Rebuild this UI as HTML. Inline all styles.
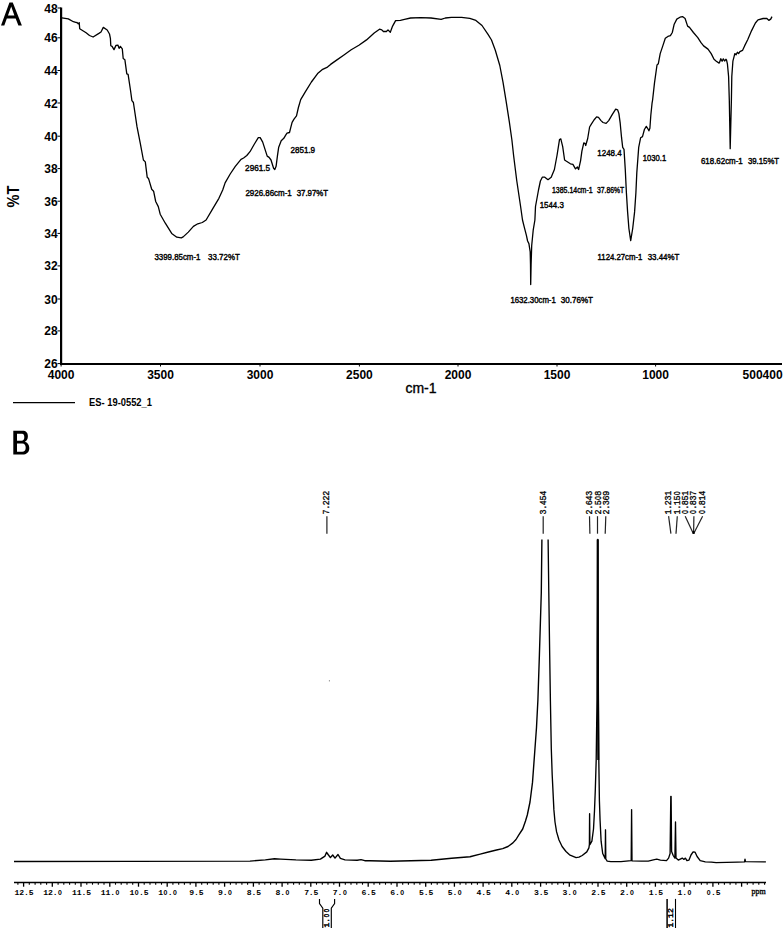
<!DOCTYPE html>
<html><head><meta charset="utf-8"><title>IR and 1H NMR spectra</title>
<style>
html,body{margin:0;padding:0;background:#fff;}
body{width:784px;height:928px;overflow:hidden;}
svg{display:block;}
.s{font-family:"Liberation Sans",sans-serif;}
.m{font-family:"Liberation Mono",monospace;}
.r{font-family:"Liberation Serif",serif;}
</style></head><body>
<svg width="784" height="928" viewBox="0 0 784 928">
<rect x="0" y="0" width="784" height="928" fill="#fff"/>

<path fill="#000" fill-rule="evenodd" d="M1,25.5 L9.45,2.5 L12.77,2.5 L21.9,25.5 L18.4,25.5 L15.66,18.6 L6.83,18.6 L4.3,25.5 Z M7.95,15.4 L14.39,15.4 L11.2,6.4 Z"/>
<path fill="#000" fill-rule="evenodd" d="M13.3,430.8 H22.5 C26,430.8 27.9,432.8 27.9,436.2 C27.9,439 26.6,440.9 24.8,441.8 C27.5,442.6 29.3,444.7 29.3,447.9 C29.3,452 26.8,454.5 22.3,454.5 H13.3 Z M17,433.8 H22 C23.7,433.8 24.3,435 24.3,437.3 C24.3,439.6 23.4,440.8 21.5,440.8 H17 Z M17,443.6 H22.3 C24.6,443.6 25.7,445.3 25.7,447.7 C25.7,450.4 24.4,451.7 22.2,451.7 H17 Z"/>
<path d="M61.1,7.5 V364 H782" fill="none" stroke="#000" stroke-width="2.2"/>
<line x1="57.5" y1="8.0" x2="61" y2="8.0" stroke="#000" stroke-width="1"/>
<text class="s" x="57.7" y="12.5" font-size="12" font-weight="bold" text-anchor="end" fill="#000">48</text>
<line x1="57.5" y1="37.8" x2="61" y2="37.8" stroke="#000" stroke-width="1"/>
<text class="s" x="57.7" y="42.3" font-size="12" font-weight="bold" text-anchor="end" fill="#000">46</text>
<line x1="57.5" y1="70.5" x2="61" y2="70.5" stroke="#000" stroke-width="1"/>
<text class="s" x="57.7" y="75.0" font-size="12" font-weight="bold" text-anchor="end" fill="#000">44</text>
<line x1="57.5" y1="103.0" x2="61" y2="103.0" stroke="#000" stroke-width="1"/>
<text class="s" x="57.7" y="107.5" font-size="12" font-weight="bold" text-anchor="end" fill="#000">42</text>
<line x1="57.5" y1="136.2" x2="61" y2="136.2" stroke="#000" stroke-width="1"/>
<text class="s" x="57.7" y="140.7" font-size="12" font-weight="bold" text-anchor="end" fill="#000">40</text>
<line x1="57.5" y1="168.6" x2="61" y2="168.6" stroke="#000" stroke-width="1"/>
<text class="s" x="57.7" y="173.1" font-size="12" font-weight="bold" text-anchor="end" fill="#000">38</text>
<line x1="57.5" y1="201.2" x2="61" y2="201.2" stroke="#000" stroke-width="1"/>
<text class="s" x="57.7" y="205.7" font-size="12" font-weight="bold" text-anchor="end" fill="#000">36</text>
<line x1="57.5" y1="233.4" x2="61" y2="233.4" stroke="#000" stroke-width="1"/>
<text class="s" x="57.7" y="237.9" font-size="12" font-weight="bold" text-anchor="end" fill="#000">34</text>
<line x1="57.5" y1="265.9" x2="61" y2="265.9" stroke="#000" stroke-width="1"/>
<text class="s" x="57.7" y="270.4" font-size="12" font-weight="bold" text-anchor="end" fill="#000">32</text>
<line x1="57.5" y1="299.0" x2="61" y2="299.0" stroke="#000" stroke-width="1"/>
<text class="s" x="57.7" y="303.5" font-size="12" font-weight="bold" text-anchor="end" fill="#000">30</text>
<line x1="57.5" y1="330.9" x2="61" y2="330.9" stroke="#000" stroke-width="1"/>
<text class="s" x="57.7" y="335.4" font-size="12" font-weight="bold" text-anchor="end" fill="#000">28</text>
<line x1="57.5" y1="363.6" x2="61" y2="363.6" stroke="#000" stroke-width="1"/>
<text class="s" x="57.7" y="368.1" font-size="12" font-weight="bold" text-anchor="end" fill="#000">26</text>
<text class="s" x="61.1" y="378.6" font-size="12" font-weight="bold" text-anchor="middle" fill="#000">4000</text>
<line x1="61.1" y1="364" x2="61.1" y2="366.5" stroke="#000" stroke-width="1"/>
<text class="s" x="160.5" y="378.6" font-size="12" font-weight="bold" text-anchor="middle" fill="#000">3500</text>
<line x1="160.5" y1="364" x2="160.5" y2="366.5" stroke="#000" stroke-width="1"/>
<text class="s" x="260.0" y="378.6" font-size="12" font-weight="bold" text-anchor="middle" fill="#000">3000</text>
<line x1="260.0" y1="364" x2="260.0" y2="366.5" stroke="#000" stroke-width="1"/>
<text class="s" x="359.4" y="378.6" font-size="12" font-weight="bold" text-anchor="middle" fill="#000">2500</text>
<line x1="359.4" y1="364" x2="359.4" y2="366.5" stroke="#000" stroke-width="1"/>
<text class="s" x="458.0" y="378.6" font-size="12" font-weight="bold" text-anchor="middle" fill="#000">2000</text>
<line x1="458.0" y1="364" x2="458.0" y2="366.5" stroke="#000" stroke-width="1"/>
<text class="s" x="557.0" y="378.6" font-size="12" font-weight="bold" text-anchor="middle" fill="#000">1500</text>
<line x1="557.0" y1="364" x2="557.0" y2="366.5" stroke="#000" stroke-width="1"/>
<text class="s" x="655.6" y="378.6" font-size="12" font-weight="bold" text-anchor="middle" fill="#000">1000</text>
<line x1="655.6" y1="364" x2="655.6" y2="366.5" stroke="#000" stroke-width="1"/>
<text class="s" x="782.6" y="378.6" font-size="12" font-weight="bold" text-anchor="end" fill="#000">500400</text>
<text class="s" x="405.4" y="393.2" font-size="14.4" fill="#000" stroke="#000" stroke-width="0.35" textLength="31.2" lengthAdjust="spacingAndGlyphs">cm-1</text>
<text class="s" font-size="16.1" font-weight="bold" fill="#000" textLength="21.8" lengthAdjust="spacingAndGlyphs" transform="translate(19.1,207.4) rotate(-90)">%T</text>
<line x1="13" y1="402.6" x2="75" y2="402.6" stroke="#000" stroke-width="1.3"/>
<text class="s" x="89" y="406.3" font-size="10.5" font-weight="bold" fill="#000" textLength="63" lengthAdjust="spacingAndGlyphs">ES- 19-0552_1</text>
<polyline points="61.9,17.9 68.3,18.9 73.4,21.7 76.5,22.6 77.0,22.4 78.2,23.8 79.2,22.6 79.7,28.7 82.5,30.5 86.1,32.8 89.5,35.5 93.1,37.0 98.9,33.4 101.0,32.0 103.3,27.4 107.2,30.0 109.5,34.0 110.4,38.3 110.8,45.7 112.1,46.4 114.0,49.6 116.0,45.4 117.9,45.1 119.1,48.3 120.4,46.4 122.3,48.9 123.2,58.5 124.9,59.8 126.8,73.8 128.1,74.4 130.6,91.0 131.9,100.6 133.4,102.5 137.0,126.7 140.2,142.8 143.4,160.0 145.3,161.9 147.2,177.2 148.5,178.5 149.1,180.4 151.7,189.3 153.6,191.2 155.7,201.5 158.3,206.6 160.2,214.2 165.3,223.2 171.7,233.4 176.8,237.2 181.3,237.8 183.2,236.9 188.3,232.1 193.4,226.4 197.8,223.8 202.3,222.5 206.1,220.0 212.5,209.1 218.9,198.3 222.7,190.0 225.1,182.9 230.2,174.0 235.3,166.3 241.0,159.3 243.6,158.0 246.8,155.5 250.0,151.7 254.4,144.0 258.3,137.6 260.2,137.6 262.7,142.1 267.2,156.1 269.1,157.4 271.0,160.0 273.6,168.2 274.8,169.5 276.1,166.3 277.4,156.1 278.7,147.2 281.2,140.8 283.8,138.3 285.7,135.1 287.0,133.2 289.5,132.5 290.8,127.4 292.1,122.3 294.0,119.1 296.5,115.9 298.4,107.5 300.7,99.6 305.3,91.9 311.4,82.0 317.6,73.6 322.1,69.7 327.5,67.1 330.6,64.4 335.9,60.6 343.6,55.2 351.2,49.8 358.9,45.3 366.5,39.9 374.2,33.0 379.5,29.2 381.8,29.9 383.4,31.5 386.4,31.5 388.0,29.9 390.3,32.2 392.6,26.1 395.6,20.6 400.4,20.4 404.5,19.4 410.6,18.0 420.8,17.6 431.0,18.0 441.2,19.4 445.3,18.0 451.4,17.3 461.6,17.3 469.8,18.4 475.9,20.4 482.0,25.5 488.2,34.7 491.5,40.0 495.3,50.2 499.8,65.5 503.0,82.1 506.1,101.2 509.3,121.6 511.9,140.0 513.6,155.5 516.8,181.0 520.6,206.5 522.5,220.0 524.4,227.7 526.4,235.3 527.6,241.0 528.9,243.6 530.2,251.9 530.5,264.6 530.7,284.5 531.1,264.6 531.7,245.5 533.2,230.2 534.9,220.0 535.5,206.5 538.5,190.0 540.4,181.0 542.3,177.2 544.8,177.2 548.0,179.7 551.2,177.2 554.4,169.5 557.0,155.5 559.5,139.6 560.8,138.9 562.7,146.6 564.6,160.0 566.5,161.3 570.4,163.8 572.9,164.4 575.5,168.9 577.4,167.0 578.6,169.5 580.6,160.6 581.9,151.2 583.8,142.9 585.1,143.6 585.7,145.5 587.7,138.5 589.6,127.0 591.5,123.8 594.0,120.0 596.6,116.8 598.5,117.4 601.0,120.6 603.0,122.5 606.1,123.4 608.7,120.6 612.5,114.2 615.7,109.1 617.6,109.8 618.9,113.6 620.2,123.2 621.5,137.2 622.7,147.4 624.0,149.3 625.3,170.0 626.4,192.8 627.6,211.9 628.9,228.5 630.7,240.7 632.7,228.5 634.6,211.9 635.9,192.8 636.8,172.9 638.7,147.4 640.6,137.8 642.5,136.6 644.4,129.5 646.3,126.4 647.6,128.3 648.9,130.8 649.9,128.3 650.8,115.5 652.1,102.8 652.6,100.0 654.5,82.9 657.0,65.0 658.3,63.8 660.2,53.6 662.8,45.9 665.3,38.3 667.9,36.4 670.4,35.7 672.3,32.5 674.2,24.2 676.8,19.1 680.0,17.2 682.5,16.6 685.1,18.5 687.6,26.1 689.5,27.4 693.4,32.5 697.8,37.6 701.0,42.7 703.6,45.9 708.0,49.1 711.2,53.6 714.0,59.3 716.3,61.2 719.1,63.1 719.5,62.5 720.8,58.7 722.1,61.2 723.3,58.9 724.6,61.0 725.9,59.3 726.5,59.9 727.4,63.8 728.6,76.5 729.3,100.0 730.2,148.7 731.4,100.0 731.8,76.5 732.9,61.2 734.2,56.1 734.8,53.6 736.1,54.8 737.4,52.3 738.6,53.6 739.9,51.7 742.5,50.4 744.6,45.9 747.8,39.5 751.6,30.6 755.4,23.0 758.0,19.8 763.1,18.5 766.9,18.5 768.8,20.4 770.7,19.1 772.0,16.6" fill="none" stroke="#000" stroke-width="1.3" stroke-linejoin="round"/>
<text class="s" x="154.5" y="260.0" font-size="8.6" fill="#000" textLength="45.9" lengthAdjust="spacingAndGlyphs" stroke="#000" stroke-width="0.4">3399.85cm-1</text>
<text class="s" x="208.1" y="260.0" font-size="8.6" fill="#000" textLength="31.7" lengthAdjust="spacingAndGlyphs" stroke="#000" stroke-width="0.4">33.72%T</text>
<text class="s" x="245.1" y="170.5" font-size="8.6" fill="#000" textLength="25.0" lengthAdjust="spacingAndGlyphs" stroke="#000" stroke-width="0.4">2961.5</text>
<text class="s" x="290.5" y="152.6" font-size="8.6" fill="#000" textLength="24.6" lengthAdjust="spacingAndGlyphs" stroke="#000" stroke-width="0.4">2851.9</text>
<text class="s" x="245.4" y="196.4" font-size="8.6" fill="#000" textLength="46.4" lengthAdjust="spacingAndGlyphs" stroke="#000" stroke-width="0.4">2926.86cm-1</text>
<text class="s" x="296.7" y="196.4" font-size="8.6" fill="#000" textLength="31.4" lengthAdjust="spacingAndGlyphs" stroke="#000" stroke-width="0.4">37.97%T</text>
<text class="s" x="510.4" y="303.0" font-size="8.6" fill="#000" textLength="45.4" lengthAdjust="spacingAndGlyphs" stroke="#000" stroke-width="0.4">1632.30cm-1</text>
<text class="s" x="560.7" y="303.0" font-size="8.6" fill="#000" textLength="32.3" lengthAdjust="spacingAndGlyphs" stroke="#000" stroke-width="0.4">30.76%T</text>
<text class="s" x="539.7" y="207.7" font-size="8.6" fill="#000" textLength="24.1" lengthAdjust="spacingAndGlyphs" stroke="#000" stroke-width="0.4">1544.3</text>
<text class="s" x="552.0" y="193.4" font-size="8.6" fill="#000" textLength="40.6" lengthAdjust="spacingAndGlyphs" stroke="#000" stroke-width="0.4">1385.14cm-1</text>
<text class="s" x="597.0" y="193.4" font-size="8.6" fill="#000" textLength="27.2" lengthAdjust="spacingAndGlyphs" stroke="#000" stroke-width="0.4">37.86%T</text>
<text class="s" x="597.3" y="155.6" font-size="8.6" fill="#000" textLength="24.3" lengthAdjust="spacingAndGlyphs" stroke="#000" stroke-width="0.4">1248.4</text>
<text class="s" x="642.8" y="161.4" font-size="8.6" fill="#000" textLength="23.4" lengthAdjust="spacingAndGlyphs" stroke="#000" stroke-width="0.4">1030.1</text>
<text class="s" x="597.6" y="260.1" font-size="8.6" fill="#000" textLength="44.8" lengthAdjust="spacingAndGlyphs" stroke="#000" stroke-width="0.4">1124.27cm-1</text>
<text class="s" x="647.7" y="260.1" font-size="8.6" fill="#000" textLength="31.7" lengthAdjust="spacingAndGlyphs" stroke="#000" stroke-width="0.4">33.44%T</text>
<text class="s" x="700.9" y="164.4" font-size="8.6" fill="#000" textLength="41.9" lengthAdjust="spacingAndGlyphs" stroke="#000" stroke-width="0.4">618.62cm-1</text>
<text class="s" x="747.9" y="164.4" font-size="8.6" fill="#000" textLength="31.2" lengthAdjust="spacingAndGlyphs" stroke="#000" stroke-width="0.4">39.15%T</text>
<line x1="14" y1="882.5" x2="766" y2="882.5" stroke="#000" stroke-width="1.4"/>
<line x1="17.9" y1="882.5" x2="17.9" y2="884.7" stroke="#000" stroke-width="1.1"/>
<line x1="23.6" y1="882.5" x2="23.6" y2="886.7" stroke="#000" stroke-width="1.3"/>
<g transform="translate(14.60,895)"><text class="m" x="2.38" y="0" text-anchor="middle" font-size="8.1" font-weight="bold" fill="#000">1</text><text class="m" x="7.12" y="0" text-anchor="middle" font-size="8.1" font-weight="bold" fill="#000">2</text><text class="m" x="11.88" y="0" text-anchor="middle" font-size="8.1" font-weight="bold" fill="#000">.</text><text class="m" x="16.62" y="0" text-anchor="middle" font-size="8.1" font-weight="bold" fill="#000">5</text></g>
<line x1="29.3" y1="882.5" x2="29.3" y2="884.7" stroke="#000" stroke-width="1.1"/>
<line x1="35.1" y1="882.5" x2="35.1" y2="884.7" stroke="#000" stroke-width="1.1"/>
<line x1="40.8" y1="882.5" x2="40.8" y2="884.7" stroke="#000" stroke-width="1.1"/>
<line x1="46.6" y1="882.5" x2="46.6" y2="884.7" stroke="#000" stroke-width="1.1"/>
<line x1="52.3" y1="882.5" x2="52.3" y2="886.7" stroke="#000" stroke-width="1.3"/>
<g transform="translate(43.32,895)"><text class="m" x="2.38" y="0" text-anchor="middle" font-size="8.1" font-weight="bold" fill="#000">1</text><text class="m" x="7.12" y="0" text-anchor="middle" font-size="8.1" font-weight="bold" fill="#000">2</text><text class="m" x="11.88" y="0" text-anchor="middle" font-size="8.1" font-weight="bold" fill="#000">.</text><text class="m" text-anchor="middle" font-size="8.1" font-weight="bold" fill="#000" transform="translate(16.62,0) scale(0.78,1)">O</text></g>
<line x1="58.1" y1="882.5" x2="58.1" y2="884.7" stroke="#000" stroke-width="1.1"/>
<line x1="63.8" y1="882.5" x2="63.8" y2="884.7" stroke="#000" stroke-width="1.1"/>
<line x1="69.6" y1="882.5" x2="69.6" y2="884.7" stroke="#000" stroke-width="1.1"/>
<line x1="75.3" y1="882.5" x2="75.3" y2="884.7" stroke="#000" stroke-width="1.1"/>
<line x1="81.0" y1="882.5" x2="81.0" y2="886.7" stroke="#000" stroke-width="1.3"/>
<g transform="translate(72.04,895)"><text class="m" x="2.38" y="0" text-anchor="middle" font-size="8.1" font-weight="bold" fill="#000">1</text><text class="m" x="7.12" y="0" text-anchor="middle" font-size="8.1" font-weight="bold" fill="#000">1</text><text class="m" x="11.88" y="0" text-anchor="middle" font-size="8.1" font-weight="bold" fill="#000">.</text><text class="m" x="16.62" y="0" text-anchor="middle" font-size="8.1" font-weight="bold" fill="#000">5</text></g>
<line x1="86.8" y1="882.5" x2="86.8" y2="884.7" stroke="#000" stroke-width="1.1"/>
<line x1="92.5" y1="882.5" x2="92.5" y2="884.7" stroke="#000" stroke-width="1.1"/>
<line x1="98.3" y1="882.5" x2="98.3" y2="884.7" stroke="#000" stroke-width="1.1"/>
<line x1="104.0" y1="882.5" x2="104.0" y2="884.7" stroke="#000" stroke-width="1.1"/>
<line x1="109.8" y1="882.5" x2="109.8" y2="886.7" stroke="#000" stroke-width="1.3"/>
<g transform="translate(100.76,895)"><text class="m" x="2.38" y="0" text-anchor="middle" font-size="8.1" font-weight="bold" fill="#000">1</text><text class="m" x="7.12" y="0" text-anchor="middle" font-size="8.1" font-weight="bold" fill="#000">1</text><text class="m" x="11.88" y="0" text-anchor="middle" font-size="8.1" font-weight="bold" fill="#000">.</text><text class="m" text-anchor="middle" font-size="8.1" font-weight="bold" fill="#000" transform="translate(16.62,0) scale(0.78,1)">O</text></g>
<line x1="115.5" y1="882.5" x2="115.5" y2="884.7" stroke="#000" stroke-width="1.1"/>
<line x1="121.2" y1="882.5" x2="121.2" y2="884.7" stroke="#000" stroke-width="1.1"/>
<line x1="127.0" y1="882.5" x2="127.0" y2="884.7" stroke="#000" stroke-width="1.1"/>
<line x1="132.7" y1="882.5" x2="132.7" y2="884.7" stroke="#000" stroke-width="1.1"/>
<line x1="138.5" y1="882.5" x2="138.5" y2="886.7" stroke="#000" stroke-width="1.3"/>
<g transform="translate(129.48,895)"><text class="m" x="2.38" y="0" text-anchor="middle" font-size="8.1" font-weight="bold" fill="#000">1</text><text class="m" text-anchor="middle" font-size="8.1" font-weight="bold" fill="#000" transform="translate(7.12,0) scale(0.78,1)">O</text><text class="m" x="11.88" y="0" text-anchor="middle" font-size="8.1" font-weight="bold" fill="#000">.</text><text class="m" x="16.62" y="0" text-anchor="middle" font-size="8.1" font-weight="bold" fill="#000">5</text></g>
<line x1="144.2" y1="882.5" x2="144.2" y2="884.7" stroke="#000" stroke-width="1.1"/>
<line x1="150.0" y1="882.5" x2="150.0" y2="884.7" stroke="#000" stroke-width="1.1"/>
<line x1="155.7" y1="882.5" x2="155.7" y2="884.7" stroke="#000" stroke-width="1.1"/>
<line x1="161.5" y1="882.5" x2="161.5" y2="884.7" stroke="#000" stroke-width="1.1"/>
<line x1="167.2" y1="882.5" x2="167.2" y2="886.7" stroke="#000" stroke-width="1.3"/>
<g transform="translate(158.20,895)"><text class="m" x="2.38" y="0" text-anchor="middle" font-size="8.1" font-weight="bold" fill="#000">1</text><text class="m" text-anchor="middle" font-size="8.1" font-weight="bold" fill="#000" transform="translate(7.12,0) scale(0.78,1)">O</text><text class="m" x="11.88" y="0" text-anchor="middle" font-size="8.1" font-weight="bold" fill="#000">.</text><text class="m" text-anchor="middle" font-size="8.1" font-weight="bold" fill="#000" transform="translate(16.62,0) scale(0.78,1)">O</text></g>
<line x1="172.9" y1="882.5" x2="172.9" y2="884.7" stroke="#000" stroke-width="1.1"/>
<line x1="178.7" y1="882.5" x2="178.7" y2="884.7" stroke="#000" stroke-width="1.1"/>
<line x1="184.4" y1="882.5" x2="184.4" y2="884.7" stroke="#000" stroke-width="1.1"/>
<line x1="190.2" y1="882.5" x2="190.2" y2="884.7" stroke="#000" stroke-width="1.1"/>
<line x1="195.9" y1="882.5" x2="195.9" y2="886.7" stroke="#000" stroke-width="1.3"/>
<g transform="translate(189.29,895)"><text class="m" x="2.38" y="0" text-anchor="middle" font-size="8.1" font-weight="bold" fill="#000">9</text><text class="m" x="7.12" y="0" text-anchor="middle" font-size="8.1" font-weight="bold" fill="#000">.</text><text class="m" x="11.88" y="0" text-anchor="middle" font-size="8.1" font-weight="bold" fill="#000">5</text></g>
<line x1="201.7" y1="882.5" x2="201.7" y2="884.7" stroke="#000" stroke-width="1.1"/>
<line x1="207.4" y1="882.5" x2="207.4" y2="884.7" stroke="#000" stroke-width="1.1"/>
<line x1="213.2" y1="882.5" x2="213.2" y2="884.7" stroke="#000" stroke-width="1.1"/>
<line x1="218.9" y1="882.5" x2="218.9" y2="884.7" stroke="#000" stroke-width="1.1"/>
<line x1="224.6" y1="882.5" x2="224.6" y2="886.7" stroke="#000" stroke-width="1.3"/>
<g transform="translate(218.01,895)"><text class="m" x="2.38" y="0" text-anchor="middle" font-size="8.1" font-weight="bold" fill="#000">9</text><text class="m" x="7.12" y="0" text-anchor="middle" font-size="8.1" font-weight="bold" fill="#000">.</text><text class="m" text-anchor="middle" font-size="8.1" font-weight="bold" fill="#000" transform="translate(11.88,0) scale(0.78,1)">O</text></g>
<line x1="230.4" y1="882.5" x2="230.4" y2="884.7" stroke="#000" stroke-width="1.1"/>
<line x1="236.1" y1="882.5" x2="236.1" y2="884.7" stroke="#000" stroke-width="1.1"/>
<line x1="241.9" y1="882.5" x2="241.9" y2="884.7" stroke="#000" stroke-width="1.1"/>
<line x1="247.6" y1="882.5" x2="247.6" y2="884.7" stroke="#000" stroke-width="1.1"/>
<line x1="253.4" y1="882.5" x2="253.4" y2="886.7" stroke="#000" stroke-width="1.3"/>
<g transform="translate(246.73,895)"><text class="m" x="2.38" y="0" text-anchor="middle" font-size="8.1" font-weight="bold" fill="#000">8</text><text class="m" x="7.12" y="0" text-anchor="middle" font-size="8.1" font-weight="bold" fill="#000">.</text><text class="m" x="11.88" y="0" text-anchor="middle" font-size="8.1" font-weight="bold" fill="#000">5</text></g>
<line x1="259.1" y1="882.5" x2="259.1" y2="884.7" stroke="#000" stroke-width="1.1"/>
<line x1="264.8" y1="882.5" x2="264.8" y2="884.7" stroke="#000" stroke-width="1.1"/>
<line x1="270.6" y1="882.5" x2="270.6" y2="884.7" stroke="#000" stroke-width="1.1"/>
<line x1="276.3" y1="882.5" x2="276.3" y2="884.7" stroke="#000" stroke-width="1.1"/>
<line x1="282.1" y1="882.5" x2="282.1" y2="886.7" stroke="#000" stroke-width="1.3"/>
<g transform="translate(275.46,895)"><text class="m" x="2.38" y="0" text-anchor="middle" font-size="8.1" font-weight="bold" fill="#000">8</text><text class="m" x="7.12" y="0" text-anchor="middle" font-size="8.1" font-weight="bold" fill="#000">.</text><text class="m" text-anchor="middle" font-size="8.1" font-weight="bold" fill="#000" transform="translate(11.88,0) scale(0.78,1)">O</text></g>
<line x1="287.8" y1="882.5" x2="287.8" y2="884.7" stroke="#000" stroke-width="1.1"/>
<line x1="293.6" y1="882.5" x2="293.6" y2="884.7" stroke="#000" stroke-width="1.1"/>
<line x1="299.3" y1="882.5" x2="299.3" y2="884.7" stroke="#000" stroke-width="1.1"/>
<line x1="305.1" y1="882.5" x2="305.1" y2="884.7" stroke="#000" stroke-width="1.1"/>
<line x1="310.8" y1="882.5" x2="310.8" y2="886.7" stroke="#000" stroke-width="1.3"/>
<g transform="translate(304.18,895)"><text class="m" x="2.38" y="0" text-anchor="middle" font-size="8.1" font-weight="bold" fill="#000">7</text><text class="m" x="7.12" y="0" text-anchor="middle" font-size="8.1" font-weight="bold" fill="#000">.</text><text class="m" x="11.88" y="0" text-anchor="middle" font-size="8.1" font-weight="bold" fill="#000">5</text></g>
<line x1="316.5" y1="882.5" x2="316.5" y2="884.7" stroke="#000" stroke-width="1.1"/>
<line x1="322.3" y1="882.5" x2="322.3" y2="884.7" stroke="#000" stroke-width="1.1"/>
<line x1="328.0" y1="882.5" x2="328.0" y2="884.7" stroke="#000" stroke-width="1.1"/>
<line x1="333.8" y1="882.5" x2="333.8" y2="884.7" stroke="#000" stroke-width="1.1"/>
<line x1="339.5" y1="882.5" x2="339.5" y2="886.7" stroke="#000" stroke-width="1.3"/>
<g transform="translate(332.89,895)"><text class="m" x="2.38" y="0" text-anchor="middle" font-size="8.1" font-weight="bold" fill="#000">7</text><text class="m" x="7.12" y="0" text-anchor="middle" font-size="8.1" font-weight="bold" fill="#000">.</text><text class="m" text-anchor="middle" font-size="8.1" font-weight="bold" fill="#000" transform="translate(11.88,0) scale(0.78,1)">O</text></g>
<line x1="345.3" y1="882.5" x2="345.3" y2="884.7" stroke="#000" stroke-width="1.1"/>
<line x1="351.0" y1="882.5" x2="351.0" y2="884.7" stroke="#000" stroke-width="1.1"/>
<line x1="356.8" y1="882.5" x2="356.8" y2="884.7" stroke="#000" stroke-width="1.1"/>
<line x1="362.5" y1="882.5" x2="362.5" y2="884.7" stroke="#000" stroke-width="1.1"/>
<line x1="368.2" y1="882.5" x2="368.2" y2="886.7" stroke="#000" stroke-width="1.3"/>
<g transform="translate(361.62,895)"><text class="m" x="2.38" y="0" text-anchor="middle" font-size="8.1" font-weight="bold" fill="#000">6</text><text class="m" x="7.12" y="0" text-anchor="middle" font-size="8.1" font-weight="bold" fill="#000">.</text><text class="m" x="11.88" y="0" text-anchor="middle" font-size="8.1" font-weight="bold" fill="#000">5</text></g>
<line x1="374.0" y1="882.5" x2="374.0" y2="884.7" stroke="#000" stroke-width="1.1"/>
<line x1="379.7" y1="882.5" x2="379.7" y2="884.7" stroke="#000" stroke-width="1.1"/>
<line x1="385.5" y1="882.5" x2="385.5" y2="884.7" stroke="#000" stroke-width="1.1"/>
<line x1="391.2" y1="882.5" x2="391.2" y2="884.7" stroke="#000" stroke-width="1.1"/>
<line x1="397.0" y1="882.5" x2="397.0" y2="886.7" stroke="#000" stroke-width="1.3"/>
<g transform="translate(390.34,895)"><text class="m" x="2.38" y="0" text-anchor="middle" font-size="8.1" font-weight="bold" fill="#000">6</text><text class="m" x="7.12" y="0" text-anchor="middle" font-size="8.1" font-weight="bold" fill="#000">.</text><text class="m" text-anchor="middle" font-size="8.1" font-weight="bold" fill="#000" transform="translate(11.88,0) scale(0.78,1)">O</text></g>
<line x1="402.7" y1="882.5" x2="402.7" y2="884.7" stroke="#000" stroke-width="1.1"/>
<line x1="408.4" y1="882.5" x2="408.4" y2="884.7" stroke="#000" stroke-width="1.1"/>
<line x1="414.2" y1="882.5" x2="414.2" y2="884.7" stroke="#000" stroke-width="1.1"/>
<line x1="419.9" y1="882.5" x2="419.9" y2="884.7" stroke="#000" stroke-width="1.1"/>
<line x1="425.7" y1="882.5" x2="425.7" y2="886.7" stroke="#000" stroke-width="1.3"/>
<g transform="translate(419.06,895)"><text class="m" x="2.38" y="0" text-anchor="middle" font-size="8.1" font-weight="bold" fill="#000">5</text><text class="m" x="7.12" y="0" text-anchor="middle" font-size="8.1" font-weight="bold" fill="#000">.</text><text class="m" x="11.88" y="0" text-anchor="middle" font-size="8.1" font-weight="bold" fill="#000">5</text></g>
<line x1="431.4" y1="882.5" x2="431.4" y2="884.7" stroke="#000" stroke-width="1.1"/>
<line x1="437.2" y1="882.5" x2="437.2" y2="884.7" stroke="#000" stroke-width="1.1"/>
<line x1="442.9" y1="882.5" x2="442.9" y2="884.7" stroke="#000" stroke-width="1.1"/>
<line x1="448.7" y1="882.5" x2="448.7" y2="884.7" stroke="#000" stroke-width="1.1"/>
<line x1="454.4" y1="882.5" x2="454.4" y2="886.7" stroke="#000" stroke-width="1.3"/>
<g transform="translate(447.77,895)"><text class="m" x="2.38" y="0" text-anchor="middle" font-size="8.1" font-weight="bold" fill="#000">5</text><text class="m" x="7.12" y="0" text-anchor="middle" font-size="8.1" font-weight="bold" fill="#000">.</text><text class="m" text-anchor="middle" font-size="8.1" font-weight="bold" fill="#000" transform="translate(11.88,0) scale(0.78,1)">O</text></g>
<line x1="460.1" y1="882.5" x2="460.1" y2="884.7" stroke="#000" stroke-width="1.1"/>
<line x1="465.9" y1="882.5" x2="465.9" y2="884.7" stroke="#000" stroke-width="1.1"/>
<line x1="471.6" y1="882.5" x2="471.6" y2="884.7" stroke="#000" stroke-width="1.1"/>
<line x1="477.4" y1="882.5" x2="477.4" y2="884.7" stroke="#000" stroke-width="1.1"/>
<line x1="483.1" y1="882.5" x2="483.1" y2="886.7" stroke="#000" stroke-width="1.3"/>
<g transform="translate(476.50,895)"><text class="m" x="2.38" y="0" text-anchor="middle" font-size="8.1" font-weight="bold" fill="#000">4</text><text class="m" x="7.12" y="0" text-anchor="middle" font-size="8.1" font-weight="bold" fill="#000">.</text><text class="m" x="11.88" y="0" text-anchor="middle" font-size="8.1" font-weight="bold" fill="#000">5</text></g>
<line x1="488.9" y1="882.5" x2="488.9" y2="884.7" stroke="#000" stroke-width="1.1"/>
<line x1="494.6" y1="882.5" x2="494.6" y2="884.7" stroke="#000" stroke-width="1.1"/>
<line x1="500.4" y1="882.5" x2="500.4" y2="884.7" stroke="#000" stroke-width="1.1"/>
<line x1="506.1" y1="882.5" x2="506.1" y2="884.7" stroke="#000" stroke-width="1.1"/>
<line x1="511.8" y1="882.5" x2="511.8" y2="886.7" stroke="#000" stroke-width="1.3"/>
<g transform="translate(505.22,895)"><text class="m" x="2.38" y="0" text-anchor="middle" font-size="8.1" font-weight="bold" fill="#000">4</text><text class="m" x="7.12" y="0" text-anchor="middle" font-size="8.1" font-weight="bold" fill="#000">.</text><text class="m" text-anchor="middle" font-size="8.1" font-weight="bold" fill="#000" transform="translate(11.88,0) scale(0.78,1)">O</text></g>
<line x1="517.6" y1="882.5" x2="517.6" y2="884.7" stroke="#000" stroke-width="1.1"/>
<line x1="523.3" y1="882.5" x2="523.3" y2="884.7" stroke="#000" stroke-width="1.1"/>
<line x1="529.1" y1="882.5" x2="529.1" y2="884.7" stroke="#000" stroke-width="1.1"/>
<line x1="534.8" y1="882.5" x2="534.8" y2="884.7" stroke="#000" stroke-width="1.1"/>
<line x1="540.6" y1="882.5" x2="540.6" y2="886.7" stroke="#000" stroke-width="1.3"/>
<g transform="translate(533.94,895)"><text class="m" x="2.38" y="0" text-anchor="middle" font-size="8.1" font-weight="bold" fill="#000">3</text><text class="m" x="7.12" y="0" text-anchor="middle" font-size="8.1" font-weight="bold" fill="#000">.</text><text class="m" x="11.88" y="0" text-anchor="middle" font-size="8.1" font-weight="bold" fill="#000">5</text></g>
<line x1="546.3" y1="882.5" x2="546.3" y2="884.7" stroke="#000" stroke-width="1.1"/>
<line x1="552.0" y1="882.5" x2="552.0" y2="884.7" stroke="#000" stroke-width="1.1"/>
<line x1="557.8" y1="882.5" x2="557.8" y2="884.7" stroke="#000" stroke-width="1.1"/>
<line x1="563.5" y1="882.5" x2="563.5" y2="884.7" stroke="#000" stroke-width="1.1"/>
<line x1="569.3" y1="882.5" x2="569.3" y2="886.7" stroke="#000" stroke-width="1.3"/>
<g transform="translate(562.65,895)"><text class="m" x="2.38" y="0" text-anchor="middle" font-size="8.1" font-weight="bold" fill="#000">3</text><text class="m" x="7.12" y="0" text-anchor="middle" font-size="8.1" font-weight="bold" fill="#000">.</text><text class="m" text-anchor="middle" font-size="8.1" font-weight="bold" fill="#000" transform="translate(11.88,0) scale(0.78,1)">O</text></g>
<line x1="575.0" y1="882.5" x2="575.0" y2="884.7" stroke="#000" stroke-width="1.1"/>
<line x1="580.8" y1="882.5" x2="580.8" y2="884.7" stroke="#000" stroke-width="1.1"/>
<line x1="586.5" y1="882.5" x2="586.5" y2="884.7" stroke="#000" stroke-width="1.1"/>
<line x1="592.3" y1="882.5" x2="592.3" y2="884.7" stroke="#000" stroke-width="1.1"/>
<line x1="598.0" y1="882.5" x2="598.0" y2="886.7" stroke="#000" stroke-width="1.3"/>
<g transform="translate(591.38,895)"><text class="m" x="2.38" y="0" text-anchor="middle" font-size="8.1" font-weight="bold" fill="#000">2</text><text class="m" x="7.12" y="0" text-anchor="middle" font-size="8.1" font-weight="bold" fill="#000">.</text><text class="m" x="11.88" y="0" text-anchor="middle" font-size="8.1" font-weight="bold" fill="#000">5</text></g>
<line x1="603.7" y1="882.5" x2="603.7" y2="884.7" stroke="#000" stroke-width="1.1"/>
<line x1="609.5" y1="882.5" x2="609.5" y2="884.7" stroke="#000" stroke-width="1.1"/>
<line x1="615.2" y1="882.5" x2="615.2" y2="884.7" stroke="#000" stroke-width="1.1"/>
<line x1="621.0" y1="882.5" x2="621.0" y2="884.7" stroke="#000" stroke-width="1.1"/>
<line x1="626.7" y1="882.5" x2="626.7" y2="886.7" stroke="#000" stroke-width="1.3"/>
<g transform="translate(620.10,895)"><text class="m" x="2.38" y="0" text-anchor="middle" font-size="8.1" font-weight="bold" fill="#000">2</text><text class="m" x="7.12" y="0" text-anchor="middle" font-size="8.1" font-weight="bold" fill="#000">.</text><text class="m" text-anchor="middle" font-size="8.1" font-weight="bold" fill="#000" transform="translate(11.88,0) scale(0.78,1)">O</text></g>
<line x1="632.5" y1="882.5" x2="632.5" y2="884.7" stroke="#000" stroke-width="1.1"/>
<line x1="638.2" y1="882.5" x2="638.2" y2="884.7" stroke="#000" stroke-width="1.1"/>
<line x1="644.0" y1="882.5" x2="644.0" y2="884.7" stroke="#000" stroke-width="1.1"/>
<line x1="649.7" y1="882.5" x2="649.7" y2="884.7" stroke="#000" stroke-width="1.1"/>
<line x1="655.4" y1="882.5" x2="655.4" y2="886.7" stroke="#000" stroke-width="1.3"/>
<g transform="translate(648.81,895)"><text class="m" x="2.38" y="0" text-anchor="middle" font-size="8.1" font-weight="bold" fill="#000">1</text><text class="m" x="7.12" y="0" text-anchor="middle" font-size="8.1" font-weight="bold" fill="#000">.</text><text class="m" x="11.88" y="0" text-anchor="middle" font-size="8.1" font-weight="bold" fill="#000">5</text></g>
<line x1="661.2" y1="882.5" x2="661.2" y2="884.7" stroke="#000" stroke-width="1.1"/>
<line x1="666.9" y1="882.5" x2="666.9" y2="884.7" stroke="#000" stroke-width="1.1"/>
<line x1="672.7" y1="882.5" x2="672.7" y2="884.7" stroke="#000" stroke-width="1.1"/>
<line x1="678.4" y1="882.5" x2="678.4" y2="884.7" stroke="#000" stroke-width="1.1"/>
<line x1="684.2" y1="882.5" x2="684.2" y2="886.7" stroke="#000" stroke-width="1.3"/>
<g transform="translate(677.53,895)"><text class="m" x="2.38" y="0" text-anchor="middle" font-size="8.1" font-weight="bold" fill="#000">1</text><text class="m" x="7.12" y="0" text-anchor="middle" font-size="8.1" font-weight="bold" fill="#000">.</text><text class="m" text-anchor="middle" font-size="8.1" font-weight="bold" fill="#000" transform="translate(11.88,0) scale(0.78,1)">O</text></g>
<line x1="689.9" y1="882.5" x2="689.9" y2="884.7" stroke="#000" stroke-width="1.1"/>
<line x1="695.6" y1="882.5" x2="695.6" y2="884.7" stroke="#000" stroke-width="1.1"/>
<line x1="701.4" y1="882.5" x2="701.4" y2="884.7" stroke="#000" stroke-width="1.1"/>
<line x1="707.1" y1="882.5" x2="707.1" y2="884.7" stroke="#000" stroke-width="1.1"/>
<line x1="712.9" y1="882.5" x2="712.9" y2="886.7" stroke="#000" stroke-width="1.3"/>
<g transform="translate(706.25,895)"><text class="m" text-anchor="middle" font-size="8.1" font-weight="bold" fill="#000" transform="translate(2.38,0) scale(0.78,1)">O</text><text class="m" x="7.12" y="0" text-anchor="middle" font-size="8.1" font-weight="bold" fill="#000">.</text><text class="m" x="11.88" y="0" text-anchor="middle" font-size="8.1" font-weight="bold" fill="#000">5</text></g>
<line x1="718.6" y1="882.5" x2="718.6" y2="884.7" stroke="#000" stroke-width="1.1"/>
<line x1="724.4" y1="882.5" x2="724.4" y2="884.7" stroke="#000" stroke-width="1.1"/>
<line x1="730.1" y1="882.5" x2="730.1" y2="884.7" stroke="#000" stroke-width="1.1"/>
<line x1="735.9" y1="882.5" x2="735.9" y2="884.7" stroke="#000" stroke-width="1.1"/>
<line x1="741.6" y1="882.5" x2="741.6" y2="886.7" stroke="#000" stroke-width="1.3"/>
<line x1="747.3" y1="882.5" x2="747.3" y2="884.7" stroke="#000" stroke-width="1.1"/>
<line x1="753.1" y1="882.5" x2="753.1" y2="884.7" stroke="#000" stroke-width="1.1"/>
<line x1="758.8" y1="882.5" x2="758.8" y2="884.7" stroke="#000" stroke-width="1.1"/>
<line x1="764.6" y1="882.5" x2="764.6" y2="884.7" stroke="#000" stroke-width="1.1"/>
<text class="r" x="751.6" y="893.9" font-size="8.8" fill="#000" stroke="#000" stroke-width="0.35" textLength="14.2" lengthAdjust="spacingAndGlyphs">ppm</text>
<polyline points="14.0,861.5 250.0,861.1 265.3,859.9 274.5,858.8 280.6,859.1 295.9,859.9 311.3,860.2 320.4,859.1 325.0,856.1 326.6,852.3 328.1,854.5 330.4,857.6 332.7,855.0 335.0,858.1 338.0,854.5 340.4,858.4 345.0,859.9 357.2,860.2 361.0,859.6 364.8,860.7 370.0,860.8 390.4,861.2 410.8,860.8 431.2,860.2 451.6,858.2 470.0,856.7 480.2,854.1 488.4,852.0 496.5,850.0 502.7,848.6 508.0,846.5 512.9,842.9 516.0,839.5 519.0,834.7 522.7,829.0 525.5,821.0 527.3,815.0 530.0,802.0 532.5,782.4 534.5,755.0 536.5,727.5 537.9,700.0 539.4,655.0 541.3,592.5 541.9,539.4" fill="none" stroke="#000" stroke-width="1.4" stroke-linejoin="round"/>
<polyline points="548.1,539.4 548.8,592.5 549.7,655.0 550.4,701.0 551.3,748.8 552.2,775.0 553.9,809.9 555.0,822.0 556.6,831.9 559.0,840.0 562.1,846.5 566.0,851.5 569.5,854.8 574.9,857.1 576.1,857.6 579.0,857.2 582.2,855.5 586.8,851.9 588.9,847.9 589.4,844.3 589.6,813.7 589.9,844.6 591.9,841.2 593.5,829.0 594.5,810.6 595.3,790.0 596.2,760.0 597.0,700.0 597.5,600.0 597.7,539.4 597.9,539.4 598.1,600.0 598.4,700.0 598.8,760.0 599.1,780.0 599.4,800.4 600.1,820.8 601.1,841.2 602.7,853.5 605.2,858.6 605.5,829.8 605.8,859.0 607.2,861.1 610.8,861.6 621.0,861.6 631.2,860.6 631.6,809.6 632.0,860.8 641.4,861.1 648.2,861.1 653.3,859.9 656.8,859.1 660.4,860.1 666.5,860.6 668.6,858.1 670.1,853.5 670.8,796.3 671.1,796.3 671.6,851.4 673.2,855.5 674.9,858.1 675.5,822.0 676.0,858.1 678.3,860.1 680.3,859.1 682.3,858.1 683.9,859.4 685.4,858.1 686.9,860.6 689.0,860.1 691.0,855.0 693.1,851.9 695.1,852.2 697.1,856.5 700.2,860.6 705.3,861.8 711.4,862.1 716.1,862.7 737.5,862.2 744.5,861.9 745.0,859.2 745.5,861.6 765.9,861.9" fill="none" stroke="#000" stroke-width="1.35" stroke-linejoin="round"/>
<path d="M597.7,539.4 L597.75,650 L598.1,720 L598.3,760" fill="none" stroke="#000" stroke-width="2.1"/>
<g transform="translate(329.2,514.3) rotate(-90)"><text class="m" x="2.34" y="0" text-anchor="middle" font-size="8.4" fill="#000" stroke="#000" stroke-width="0.3">7</text><text class="m" x="7.02" y="0" text-anchor="middle" font-size="8.4" fill="#000" stroke="#000" stroke-width="0.3">.</text><text class="m" x="11.70" y="0" text-anchor="middle" font-size="8.4" fill="#000" stroke="#000" stroke-width="0.3">2</text><text class="m" x="16.38" y="0" text-anchor="middle" font-size="8.4" fill="#000" stroke="#000" stroke-width="0.3">2</text><text class="m" x="21.06" y="0" text-anchor="middle" font-size="8.4" fill="#000" stroke="#000" stroke-width="0.3">2</text></g>
<line x1="326.9" y1="516.2" x2="326.9" y2="533.7" stroke="#222" stroke-width="1.2"/>
<g transform="translate(545.8,514.3) rotate(-90)"><text class="m" x="2.34" y="0" text-anchor="middle" font-size="8.4" fill="#000" stroke="#000" stroke-width="0.3">3</text><text class="m" x="7.02" y="0" text-anchor="middle" font-size="8.4" fill="#000" stroke="#000" stroke-width="0.3">.</text><text class="m" x="11.70" y="0" text-anchor="middle" font-size="8.4" fill="#000" stroke="#000" stroke-width="0.3">4</text><text class="m" x="16.38" y="0" text-anchor="middle" font-size="8.4" fill="#000" stroke="#000" stroke-width="0.3">5</text><text class="m" x="21.06" y="0" text-anchor="middle" font-size="8.4" fill="#000" stroke="#000" stroke-width="0.3">4</text></g>
<line x1="543.2" y1="516.2" x2="543.2" y2="533.7" stroke="#222" stroke-width="1.2"/>
<g transform="translate(592.0,514.3) rotate(-90)"><text class="m" x="2.34" y="0" text-anchor="middle" font-size="8.4" fill="#000" stroke="#000" stroke-width="0.3">2</text><text class="m" x="7.02" y="0" text-anchor="middle" font-size="8.4" fill="#000" stroke="#000" stroke-width="0.3">.</text><text class="m" x="11.70" y="0" text-anchor="middle" font-size="8.4" fill="#000" stroke="#000" stroke-width="0.3">6</text><text class="m" x="16.38" y="0" text-anchor="middle" font-size="8.4" fill="#000" stroke="#000" stroke-width="0.3">4</text><text class="m" x="21.06" y="0" text-anchor="middle" font-size="8.4" fill="#000" stroke="#000" stroke-width="0.3">3</text></g>
<line x1="589.5" y1="516.2" x2="589.9" y2="533.7" stroke="#222" stroke-width="1.2"/>
<g transform="translate(600.7,514.3) rotate(-90)"><text class="m" x="2.34" y="0" text-anchor="middle" font-size="8.4" fill="#000" stroke="#000" stroke-width="0.3">2</text><text class="m" x="7.02" y="0" text-anchor="middle" font-size="8.4" fill="#000" stroke="#000" stroke-width="0.3">.</text><text class="m" x="11.70" y="0" text-anchor="middle" font-size="8.4" fill="#000" stroke="#000" stroke-width="0.3">5</text><text class="m" text-anchor="middle" font-size="8.4" fill="#000" stroke="#000" stroke-width="0.3" transform="translate(16.38,0) scale(0.78,1)">O</text><text class="m" x="21.06" y="0" text-anchor="middle" font-size="8.4" fill="#000" stroke="#000" stroke-width="0.3">8</text></g>
<line x1="597.5" y1="516.2" x2="597.5" y2="533.7" stroke="#222" stroke-width="1.2"/>
<g transform="translate(609.2,514.3) rotate(-90)"><text class="m" x="2.34" y="0" text-anchor="middle" font-size="8.4" fill="#000" stroke="#000" stroke-width="0.3">2</text><text class="m" x="7.02" y="0" text-anchor="middle" font-size="8.4" fill="#000" stroke="#000" stroke-width="0.3">.</text><text class="m" x="11.70" y="0" text-anchor="middle" font-size="8.4" fill="#000" stroke="#000" stroke-width="0.3">3</text><text class="m" x="16.38" y="0" text-anchor="middle" font-size="8.4" fill="#000" stroke="#000" stroke-width="0.3">6</text><text class="m" x="21.06" y="0" text-anchor="middle" font-size="8.4" fill="#000" stroke="#000" stroke-width="0.3">9</text></g>
<line x1="605.8" y1="516.2" x2="605.2" y2="533.7" stroke="#222" stroke-width="1.2"/>
<g transform="translate(671.2,514.3) rotate(-90)"><text class="m" x="2.34" y="0" text-anchor="middle" font-size="8.4" fill="#000" stroke="#000" stroke-width="0.3">1</text><text class="m" x="7.02" y="0" text-anchor="middle" font-size="8.4" fill="#000" stroke="#000" stroke-width="0.3">.</text><text class="m" x="11.70" y="0" text-anchor="middle" font-size="8.4" fill="#000" stroke="#000" stroke-width="0.3">2</text><text class="m" x="16.38" y="0" text-anchor="middle" font-size="8.4" fill="#000" stroke="#000" stroke-width="0.3">3</text><text class="m" x="21.06" y="0" text-anchor="middle" font-size="8.4" fill="#000" stroke="#000" stroke-width="0.3">1</text></g>
<line x1="668.6" y1="516.2" x2="670.9" y2="533.7" stroke="#222" stroke-width="1.2"/>
<g transform="translate(679.6,514.3) rotate(-90)"><text class="m" x="2.34" y="0" text-anchor="middle" font-size="8.4" fill="#000" stroke="#000" stroke-width="0.3">1</text><text class="m" x="7.02" y="0" text-anchor="middle" font-size="8.4" fill="#000" stroke="#000" stroke-width="0.3">.</text><text class="m" x="11.70" y="0" text-anchor="middle" font-size="8.4" fill="#000" stroke="#000" stroke-width="0.3">1</text><text class="m" x="16.38" y="0" text-anchor="middle" font-size="8.4" fill="#000" stroke="#000" stroke-width="0.3">5</text><text class="m" text-anchor="middle" font-size="8.4" fill="#000" stroke="#000" stroke-width="0.3" transform="translate(21.06,0) scale(0.78,1)">O</text></g>
<line x1="677.3" y1="516.2" x2="676.0" y2="533.7" stroke="#222" stroke-width="1.2"/>
<g transform="translate(688.0,514.3) rotate(-90)"><text class="m" text-anchor="middle" font-size="8.4" fill="#000" stroke="#000" stroke-width="0.3" transform="translate(2.34,0) scale(0.78,1)">O</text><text class="m" x="7.02" y="0" text-anchor="middle" font-size="8.4" fill="#000" stroke="#000" stroke-width="0.3">.</text><text class="m" x="11.70" y="0" text-anchor="middle" font-size="8.4" fill="#000" stroke="#000" stroke-width="0.3">8</text><text class="m" x="16.38" y="0" text-anchor="middle" font-size="8.4" fill="#000" stroke="#000" stroke-width="0.3">5</text><text class="m" x="21.06" y="0" text-anchor="middle" font-size="8.4" fill="#000" stroke="#000" stroke-width="0.3">1</text></g>
<line x1="685.2" y1="516.2" x2="693.4" y2="533.7" stroke="#222" stroke-width="1.2"/>
<g transform="translate(696.4,514.3) rotate(-90)"><text class="m" text-anchor="middle" font-size="8.4" fill="#000" stroke="#000" stroke-width="0.3" transform="translate(2.34,0) scale(0.78,1)">O</text><text class="m" x="7.02" y="0" text-anchor="middle" font-size="8.4" fill="#000" stroke="#000" stroke-width="0.3">.</text><text class="m" x="11.70" y="0" text-anchor="middle" font-size="8.4" fill="#000" stroke="#000" stroke-width="0.3">8</text><text class="m" x="16.38" y="0" text-anchor="middle" font-size="8.4" fill="#000" stroke="#000" stroke-width="0.3">3</text><text class="m" x="21.06" y="0" text-anchor="middle" font-size="8.4" fill="#000" stroke="#000" stroke-width="0.3">7</text></g>
<line x1="693.9" y1="516.2" x2="693.6" y2="533.7" stroke="#222" stroke-width="1.2"/>
<g transform="translate(704.8,514.3) rotate(-90)"><text class="m" text-anchor="middle" font-size="8.4" fill="#000" stroke="#000" stroke-width="0.3" transform="translate(2.34,0) scale(0.78,1)">O</text><text class="m" x="7.02" y="0" text-anchor="middle" font-size="8.4" fill="#000" stroke="#000" stroke-width="0.3">.</text><text class="m" x="11.70" y="0" text-anchor="middle" font-size="8.4" fill="#000" stroke="#000" stroke-width="0.3">8</text><text class="m" x="16.38" y="0" text-anchor="middle" font-size="8.4" fill="#000" stroke="#000" stroke-width="0.3">1</text><text class="m" x="21.06" y="0" text-anchor="middle" font-size="8.4" fill="#000" stroke="#000" stroke-width="0.3">4</text></g>
<line x1="702.6" y1="516.2" x2="693.6" y2="533.7" stroke="#222" stroke-width="1.2"/>
<rect x="692.6" y="531" width="2" height="2.8" fill="#000"/>
<path d="M319.5,898.9 V903.5 L322.8,908.1 V928 M334.6,898.9 V903.5 L331.3,908.1 V928" fill="none" stroke="#000" stroke-width="1.15"/>
<g transform="translate(329.2,927.5) rotate(-90)"><text class="m" x="2.40" y="0" text-anchor="middle" font-size="8" fill="#000" stroke="#000" stroke-width="0.45">1</text><text class="m" x="7.20" y="0" text-anchor="middle" font-size="8" fill="#000" stroke="#000" stroke-width="0.45">.</text><text class="m" text-anchor="middle" font-size="8" fill="#000" stroke="#000" stroke-width="0.45" transform="translate(12.00,0) scale(0.7,1)">O</text><text class="m" text-anchor="middle" font-size="8" fill="#000" stroke="#000" stroke-width="0.45" transform="translate(16.80,0) scale(0.7,1)">O</text></g>
<path d="M667.1,898.9 V928" fill="none" stroke="#000" stroke-width="1.5"/><path d="M675.5,898.9 V928" fill="none" stroke="#000" stroke-width="1.1"/>
<g transform="translate(673.4,927.5) rotate(-90)"><text class="m" x="2.40" y="0" text-anchor="middle" font-size="8" fill="#000" stroke="#000" stroke-width="0.45">1</text><text class="m" x="7.20" y="0" text-anchor="middle" font-size="8" fill="#000" stroke="#000" stroke-width="0.45">.</text><text class="m" x="12.00" y="0" text-anchor="middle" font-size="8" fill="#000" stroke="#000" stroke-width="0.45">1</text><text class="m" x="16.80" y="0" text-anchor="middle" font-size="8" fill="#000" stroke="#000" stroke-width="0.45">2</text></g>
<rect x="328.9" y="680" width="1" height="1.5" fill="#999"/>
</svg></body></html>
